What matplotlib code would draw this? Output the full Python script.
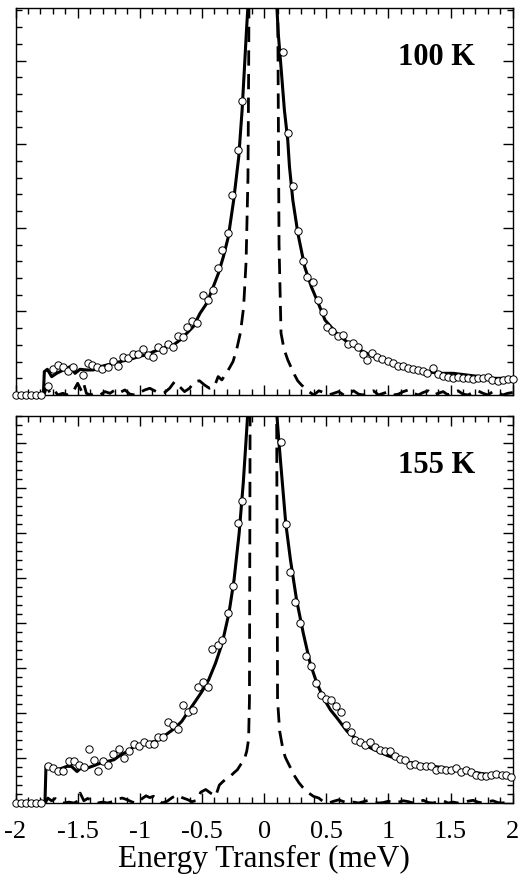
import matplotlib
matplotlib.use("Agg")
import matplotlib.pyplot as plt
from matplotlib.ticker import MultipleLocator, FormatStrFormatter

plt.rcParams["font.family"] = ["Liberation Serif", "DejaVu Serif"]
plt.rcParams["axes.unicode_minus"] = False

# ---- 100 K panel -------------------------------------------------------
top_label = "100 K"
top_obs_x = [-2.0, -1.959, -1.918, -1.878, -1.837, -1.796,
             -1.741, -1.701, -1.660, -1.619, -1.578, -1.537, -1.461, -1.420,
             -1.382, -1.341, -1.301, -1.257, -1.216, -1.176, -1.137, -1.094,
             -1.056, -1.015, -0.974, -0.933, -0.893, -0.857, -0.816, -0.776,
             -0.735, -0.694, -0.653, -0.618, -0.577, -0.536, -0.495, -0.454,
             -0.414, -0.373, -0.335, -0.294, -0.256, -0.212, -0.174,
             0.152, 0.190, 0.231, 0.272, 0.316, 0.348, 0.392, 0.430, 0.473,
             0.509, 0.550, 0.593, 0.634, 0.675, 0.716, 0.754, 0.795, 0.830,
             0.871, 0.912, 0.952, 0.993, 1.034, 1.075, 1.116, 1.156, 1.197,
             1.238, 1.279, 1.314, 1.355, 1.396, 1.437, 1.478, 1.518, 1.559,
             1.600, 1.641, 1.682, 1.722, 1.763, 1.804, 1.837, 1.878, 1.918,
             1.959, 2.0]
top_obs_y = [0, 0, 0, 0, 0, 0,
             0.108, 0.307, 0.359, 0.339, 0.291, 0.339, 0.239, 0.378,
             0.359, 0.339, 0.307, 0.339, 0.406, 0.351, 0.458, 0.438,
             0.490, 0.486, 0.546, 0.478, 0.450, 0.570, 0.538, 0.606,
             0.578, 0.709, 0.697, 0.817, 0.888, 0.865, 1.195, 1.135,
             1.255, 1.514, 1.733, 1.932, 2.390, 2.936, 3.518,
             4.104, 3.135, 2.502, 1.960, 1.602, 1.414, 1.351, 1.135, 0.996,
             0.809, 0.765, 0.709, 0.717, 0.610, 0.625, 0.578, 0.490, 0.418,
             0.498, 0.450, 0.426, 0.406, 0.378, 0.347, 0.351, 0.319, 0.307,
             0.299, 0.287, 0.259, 0.319, 0.247, 0.227, 0.211, 0.199, 0.219,
             0.199, 0.199, 0.187, 0.199, 0.199, 0.219, 0.179, 0.171, 0.179,
             0.187, 0.187]

top_fit_x = [-1.776, -1.768, -1.744, -1.709, -1.669, -1.615, -1.562, -1.521,
             -1.481, -1.427, -1.374, -1.320, -1.266, -1.213, -1.159, -1.105,
             -1.052, -0.998, -0.945, -0.891, -0.837, -0.784, -0.730, -0.677,
             -0.623, -0.570, -0.516, -0.462, -0.409, -0.368, -0.328, -0.288,
             -0.245, -0.204, -0.177, -0.158, -0.142, -0.131, -0.005,
             0.103, 0.114, 0.136, 0.163, 0.190, 0.204, 0.231, 0.272, 0.327,
             0.381, 0.435, 0.490, 0.584, 0.665, 0.772, 0.879, 0.986, 1.093,
             1.200, 1.308, 1.415, 1.522, 1.630, 1.737, 1.844, 1.951, 2.0]
top_fit_y = [0, 0.279, 0.307, 0.219, 0.259, 0.299, 0.338, 0.259,
             0.307, 0.299, 0.299, 0.338, 0.358, 0.378, 0.398, 0.418,
             0.438, 0.466, 0.478, 0.518, 0.545, 0.577, 0.598, 0.657,
             0.737, 0.817, 0.976, 1.096, 1.295, 1.454, 1.653, 1.892,
             2.330, 2.850, 3.410, 3.920, 4.360, 4.630, 20.0,
             4.630, 4.320, 3.920, 3.410, 3.050, 2.730, 2.330, 1.930, 1.530,
             1.290, 1.100, 0.896, 0.737, 0.637, 0.538, 0.458, 0.398, 0.338,
             0.299, 0.279, 0.259, 0.259, 0.239, 0.219, 0.199, 0.199, 0.199]

top_res_x = [-1.77, -1.75, -1.72, -1.69, -1.66, -1.62, -1.58, -1.54, -1.50,
             -1.47, -1.45, -1.43, -1.40, -1.36, -1.32, -1.28, -1.24, -1.20,
             -1.16, -1.12, -1.08, -1.04, -1.00, -0.96, -0.92, -0.88, -0.84,
             -0.80, -0.76, -0.72, -0.68, -0.64, -0.60, -0.56, -0.52, -0.48,
             -0.44, -0.40, -0.37, -0.34, -0.31, -0.28, -0.25, -0.22, -0.19,
             -0.165, -0.145, -0.13, -0.124, -0.118, -0.005, 0.105, 0.112,
             0.12, 0.136, 0.16, 0.19, 0.22, 0.245, 0.27, 0.30, 0.33, 0.36,
             0.40, 0.44, 0.48, 0.52, 0.56, 0.60, 0.64, 0.68, 0.72, 0.76, 0.80,
             0.84, 0.88, 0.92, 0.96, 1.00, 1.04, 1.08, 1.12, 1.16, 1.20, 1.24,
             1.28, 1.32, 1.36, 1.40, 1.44, 1.48, 1.52, 1.56, 1.60, 1.64, 1.68,
             1.72, 1.76, 1.80, 1.84, 1.88, 1.92, 1.96, 2.0]
top_res_y = [0.0, 0.10, 0.02, 0.06, 0.0, 0.02, 0.0, 0.03, 0.14,
             0.05, 0.13, 0.02, 0.0, 0.02, 0.0, 0.04, 0.02, 0.06,
             0.03, 0.06, 0.01, 0.0, 0.03, 0.06, 0.08, 0.05, 0.02,
             0.03, 0.08, 0.16, 0.10, 0.04, 0.08, 0.16, 0.17, 0.12,
             0.08, 0.10, 0.22, 0.18, 0.25, 0.32, 0.40, 0.55, 0.75,
             1.05, 1.60, 2.60, 4.0, 6.0, 60.0, 6.0, 4.0,
             1.80, 0.74, 0.55, 0.42, 0.32, 0.24, 0.17, 0.12, 0.08, 0.04,
             0.0, 0.05, 0.03, 0.0, 0.02, 0.04, 0.0, 0.02, 0.05, 0.01, 0.0,
             0.03, 0.05, 0.0, 0.02, 0.04, 0.0, 0.01, 0.04, 0.06, 0.02, 0.0,
             0.03, 0.05, 0.0, 0.02, 0.04, 0.0, 0.03, 0.05, 0.01, 0.0, 0.03,
             0.05, 0.02, 0.0, 0.04, 0.03, 0.0, 0.02, 0.03]

# ---- 155 K panel -------------------------------------------------------
bot_label = "155 K"
bot_obs_x = [-2.0, -1.959, -1.918, -1.878, -1.837, -1.796,
             -1.736, -1.696, -1.655, -1.614, -1.573, -1.533, -1.492, -1.451,
             -1.410, -1.370, -1.334, -1.293, -1.253, -1.212, -1.171, -1.130,
             -1.090, -1.049, -1.008, -0.967, -0.927, -0.886, -0.853, -0.813,
             -0.772, -0.731, -0.690, -0.655, -0.614, -0.573, -0.533, -0.492,
             -0.451, -0.418, -0.372, -0.337, -0.288, -0.250, -0.212, -0.179,
             0.139, 0.174, 0.212, 0.250, 0.291, 0.334, 0.375, 0.416, 0.457,
             0.495, 0.535, 0.576, 0.617, 0.655, 0.696, 0.731, 0.769, 0.810,
             0.851, 0.891, 0.932, 0.973, 1.014, 1.054, 1.095, 1.136, 1.177,
             1.217, 1.258, 1.299, 1.340, 1.380, 1.421, 1.462, 1.503, 1.543,
             1.582, 1.622, 1.663, 1.704, 1.745, 1.785, 1.826, 1.867, 1.910,
             1.948, 1.989]
bot_obs_y = [0, 0, 0, 0, 0, 0,
             0.815, 0.778, 0.704, 0.719, 0.926, 0.926, 0.852, 0.800,
             1.200, 0.963, 0.719, 0.926, 0.837, 1.089, 1.207, 1.000,
             1.148, 1.319, 1.259, 1.356, 1.319, 1.319, 1.459, 1.467,
             1.807, 1.741, 1.644, 2.185, 2.022, 2.074, 2.578, 2.689,
             2.578, 3.430, 3.504, 3.630, 4.222, 4.830, 6.237, 6.726,
             8.037, 6.207, 5.148, 4.481, 4.015, 3.274, 3.037, 2.667, 2.407,
             2.319, 2.281, 2.148, 2.015, 1.726, 1.578, 1.393, 1.356, 1.296,
             1.348, 1.237, 1.185, 1.148, 1.148, 1.052, 0.985, 0.963, 0.852,
             0.874, 0.830, 0.815, 0.815, 0.741, 0.756, 0.726, 0.741, 0.778,
             0.689, 0.741, 0.681, 0.630, 0.607, 0.593, 0.630, 0.644, 0.630,
             0.630, 0.570]

bot_fit_x = [-1.763, -1.755, -1.72, -1.68, -1.64, -1.587, -1.55, -1.505,
             -1.46, -1.42, -1.37, -1.315, -1.26, -1.207, -1.152, -1.098,
             -1.043, -0.989, -0.935, -0.880, -0.826, -0.772, -0.717, -0.663,
             -0.609, -0.554, -0.500, -0.446, -0.391, -0.337, -0.283, -0.242,
             -0.201, -0.168, -0.147, -0.133, -0.005,
             0.103, 0.120, 0.147, 0.174, 0.212, 0.261, 0.315, 0.370, 0.424,
             0.478, 0.533, 0.587, 0.668, 0.750, 0.859, 0.995, 1.130, 1.266,
             1.402, 1.538, 1.674, 1.810, 1.946, 2.0]
bot_fit_y = [0, 0.815, 0.780, 0.740, 0.760, 0.815, 0.815, 0.700,
             0.815, 0.780, 0.830, 0.889, 0.926, 0.963, 1.074, 1.148,
             1.259, 1.296, 1.333, 1.370, 1.444, 1.556, 1.667, 1.815,
             2.037, 2.259, 2.481, 2.741, 3.111, 3.556, 4.222, 4.963,
             6.000, 7.111, 8.000, 8.610, 30.0,
             8.610, 8.000, 7.111, 6.222, 5.407, 4.519, 3.778, 3.111, 2.667,
             2.333, 2.074, 1.889, 1.593, 1.407, 1.222, 1.052, 0.926, 0.852,
             0.800, 0.741, 0.689, 0.630, 0.593, 0.578]

bot_res_x = [-1.76, -1.74, -1.71, -1.68, -1.65, -1.61, -1.57, -1.53, -1.50,
             -1.48, -1.45, -1.42, -1.38, -1.34, -1.30, -1.26, -1.22, -1.18,
             -1.14, -1.10, -1.06, -1.02, -0.98, -0.95, -0.92, -0.89, -0.86,
             -0.82, -0.78, -0.74, -0.70, -0.66, -0.62, -0.58, -0.54, -0.51,
             -0.47, -0.43, -0.39, -0.36, -0.33, -0.30, -0.27, -0.24, -0.215,
             -0.19, -0.16, -0.14, -0.125, -0.118, -0.112, -0.005, 0.100,
             0.108, 0.125, 0.152, 0.17, 0.193, 0.22, 0.247, 0.28, 0.31, 0.329,
             0.36, 0.397, 0.44, 0.48, 0.52, 0.56, 0.60, 0.64, 0.68, 0.72,
             0.76, 0.80, 0.84, 0.88, 0.92, 0.96, 1.00, 1.04, 1.08, 1.12, 1.16,
             1.20, 1.24, 1.28, 1.32, 1.36, 1.40, 1.44, 1.48, 1.52, 1.56, 1.60,
             1.64, 1.68, 1.72, 1.76, 1.80, 1.84, 1.88, 1.92, 1.96, 2.0]
bot_res_y = [0.0, 0.11, 0.05, 0.10, 0.02, 0.0, 0.02, 0.0, 0.04,
             0.22, 0.05, 0.10, 0.06, 0.0, 0.02, 0.0, 0.03, 0.09,
             0.11, 0.07, 0.02, 0.0, 0.10, 0.16, 0.12, 0.15, 0.08,
             0.0, 0.04, 0.12, 0.18, 0.12, 0.08, 0.03, 0.06, 0.24,
             0.30, 0.22, 0.15, 0.40, 0.48, 0.55, 0.60, 0.68, 0.74,
             0.85, 0.963, 1.15, 1.41, 2.30, 9.50, 60.0, 9.50,
             2.30, 1.60, 1.185, 1.02, 0.889, 0.74, 0.593, 0.45, 0.35, 0.296,
             0.22, 0.148, 0.11, 0.02, 0.0, 0.04, 0.07, 0.03, 0.0, 0.02,
             0.0, 0.03, 0.06, 0.02, 0.0, 0.01, 0.04, 0.0, 0.02, 0.05, 0.03,
             0.0, 0.02, 0.06, 0.01, 0.0, 0.03, 0.05, 0.0, 0.02, 0.0, 0.01,
             0.04, 0.06, 0.02, 0.0, 0.03, 0.05, 0.01, 0.0, 0.03, 0.02]

X_TICKS = [-2, -1.5, -1, -0.5, 0, 0.5, 1, 1.5, 2]
X_LABEL = "Energy Transfer (meV)"


def draw_panel(ax, obs_x, obs_y, fit_x, fit_y, res_x, res_y, label, ytop):
    ax.plot(res_x, res_y, color="black", linewidth=2.0,
            linestyle=(0, (5.5, 3.0)), solid_capstyle="butt")
    ax.plot(fit_x, fit_y, color="black", linewidth=2.2)
    ax.plot(obs_x, obs_y, linestyle="none", marker="o", markersize=5.3,
            markerfacecolor="white", markeredgecolor="black",
            markeredgewidth=0.7, clip_on=False, zorder=5)

    ax.set_xlim(-2, 2)
    ax.set_ylim(0, ytop)
    ax.xaxis.set_major_locator(MultipleLocator(0.5))
    ax.xaxis.set_minor_locator(MultipleLocator(0.1))
    ax.yaxis.set_major_locator(MultipleLocator(1))
    ax.yaxis.set_minor_locator(MultipleLocator(0.2))
    ax.tick_params(which="both", direction="in", top=True, right=True,
                   width=1.0, labelleft=False)
    ax.tick_params(which="major", length=7)
    ax.tick_params(which="minor", length=4)
    for side in ax.spines.values():
        side.set_linewidth(1.0)

    ax.text(0.924, 0.872, label, transform=ax.transAxes, ha="right",
            va="center", fontsize=22, fontweight="bold")


def main():
    fig = plt.figure(figsize=(5.31, 8.83), dpi=100)
    ax_top = fig.add_axes([0.0292, 0.5527, 0.9364, 0.4383])
    ax_bot = fig.add_axes([0.0292, 0.0906, 0.9364, 0.4383])

    draw_panel(ax_top, top_obs_x, top_obs_y, top_fit_x, top_fit_y,
               top_res_x, top_res_y, top_label, 4.63)
    draw_panel(ax_bot, bot_obs_x, bot_obs_y, bot_fit_x, bot_fit_y,
               bot_res_x, bot_res_y, bot_label, 8.61)

    ax_top.tick_params(labelbottom=False)
    ax_bot.set_xticks(X_TICKS)
    ax_bot.xaxis.set_major_formatter(FormatStrFormatter("%g"))
    ax_bot.tick_params(axis="x", labelsize=19, pad=13)
    ax_bot.set_xlabel(X_LABEL, fontsize=22.5, labelpad=1)

    fig.savefig("out.png", dpi=100)
    plt.close(fig)


if __name__ == "__main__":
    main()
